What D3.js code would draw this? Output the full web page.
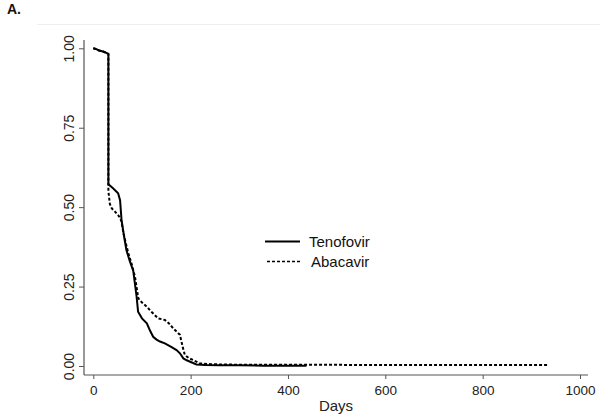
<!DOCTYPE html>
<html><head><meta charset="utf-8">
<script src="https://cdn.jsdelivr.net/npm/d3@7"></script>
<style>body{margin:0;background:#fff}svg{display:block}text{font-family:"Liberation Sans",Arial,sans-serif}</style>
</head><body><svg id="c" width="600" height="418"></svg>
<script>
const xTicks = [0, 200, 400, 600, 800, 1000];
const yTicks = [0, 0.25, 0.5, 0.75, 1.0];
const seriesNames = ["Tenofovir", "Abacavir"];
const tenofovirDays = [0, 5, 12, 20, 28, 31, 31, 40, 51, 55, 58, 63, 68, 75, 82, 89, 92, 100, 110, 117, 123, 130, 137, 147, 160, 171, 178, 185, 192, 199, 212, 230, 260, 300, 350, 400, 438];
const tenofovirSurv = [1.0, 0.998, 0.993, 0.99, 0.985, 0.982, 0.572, 0.56, 0.544, 0.522, 0.46, 0.41, 0.365, 0.33, 0.30, 0.218, 0.171, 0.15, 0.134, 0.11, 0.092, 0.083, 0.077, 0.071, 0.06, 0.05, 0.04, 0.024, 0.018, 0.0135, 0.005, 0.003, 0.002, 0.002, 0.001, 0.001, 0.001];
const abacavirDays = [0, 5, 12, 20, 28, 31, 31, 34, 38, 45, 51, 55, 58, 62, 67, 72, 79, 85.6, 92.5, 100, 109.6, 120, 133, 147, 155, 164, 178, 183.5, 188, 196, 205, 219, 240, 260, 300, 440, 600, 800, 936];
const abacavirSurv = [1.0, 0.998, 0.993, 0.99, 0.985, 0.982, 0.55, 0.51, 0.496, 0.485, 0.475, 0.466, 0.454, 0.418, 0.385, 0.355, 0.32, 0.281, 0.213, 0.20, 0.187, 0.17, 0.150, 0.145, 0.135, 0.119, 0.098, 0.061, 0.035, 0.025, 0.019, 0.008, 0.006, 0.005, 0.004, 0.004, 0.003, 0.003, 0.003];

const svg = d3.select("#c");
const x = d3.scaleLinear().domain([0, 1000]).range([93.3, 580]);
const y = d3.scaleLinear().domain([0, 1]).range([366, 48.3]);
const axisColor = "#555";
const font = "Liberation Sans, Arial, sans-serif";

svg.append("text").attr("x", 7).attr("y", 14).attr("font-size", 14).attr("font-weight", "bold").attr("fill", "#111").text("A.");
svg.append("line").attr("x1", 37).attr("x2", 600).attr("y1", 24.5).attr("y2", 24.5).attr("stroke", "#eeeeee");

// axes
const gx = svg.append("g").attr("transform", "translate(0,375)")
  .call(d3.axisBottom(x).tickValues(xTicks).tickSize(4).tickPadding(6).tickFormat(d3.format("d")));
gx.select(".domain").remove();
gx.append("line").attr("x1", 84).attr("x2", 588).attr("stroke", axisColor).attr("stroke-width", 1.2);
gx.selectAll(".tick line").attr("stroke", axisColor);
gx.selectAll(".tick text").attr("font-size", 13.5).attr("fill", "#222").attr("font-family", font);

const gy = svg.append("g").attr("transform", "translate(84,0)")
  .call(d3.axisLeft(y).tickValues(yTicks).tickSize(5).tickFormat(d3.format(".2f")));
gy.select(".domain").remove();
gy.append("line").attr("y1", 40).attr("y2", 375).attr("stroke", axisColor).attr("stroke-width", 1.2);
gy.selectAll(".tick line").attr("stroke", axisColor);
gy.selectAll(".tick text")
  .attr("font-size", 14).attr("fill", "#222").attr("font-family", font)
  .attr("x", null).attr("text-anchor", "middle")
  .attr("transform", "translate(-14.5,0) rotate(-90)").attr("y", 0).attr("dy", "0.35em");

svg.append("text").attr("x", 336).attr("y", 411).attr("text-anchor", "middle").attr("font-size", 15).attr("fill", "#222").text("Days");

const line = d3.line().x(d => x(d[0])).y(d => y(d[1]));
const tData = tenofovirDays.map((d, i) => [d, tenofovirSurv[i]]);
const aData = abacavirDays.map((d, i) => [d, abacavirSurv[i]]);
svg.append("path").datum(aData).attr("d", line).attr("fill", "none").attr("stroke", "#000").attr("stroke-width", 2).attr("stroke-dasharray", "3,2");
svg.append("path").datum(tData).attr("d", line).attr("fill", "none").attr("stroke", "#000").attr("stroke-width", 2);

// legend
const leg = svg.append("g");
leg.append("line").attr("x1", 265).attr("x2", 300).attr("y1", 241.5).attr("y2", 241.5).attr("stroke", "#000").attr("stroke-width", 2);
leg.append("line").attr("x1", 267).attr("x2", 301).attr("y1", 261.5).attr("y2", 261.5).attr("stroke", "#000").attr("stroke-width", 1.5).attr("stroke-dasharray", "3,2");
leg.append("text").attr("x", 309).attr("y", 247).attr("font-size", 15).attr("fill", "#111").text(seriesNames[0]);
leg.append("text").attr("x", 311).attr("y", 267).attr("font-size", 15).attr("fill", "#111").text(seriesNames[1]);
</script></body></html>
